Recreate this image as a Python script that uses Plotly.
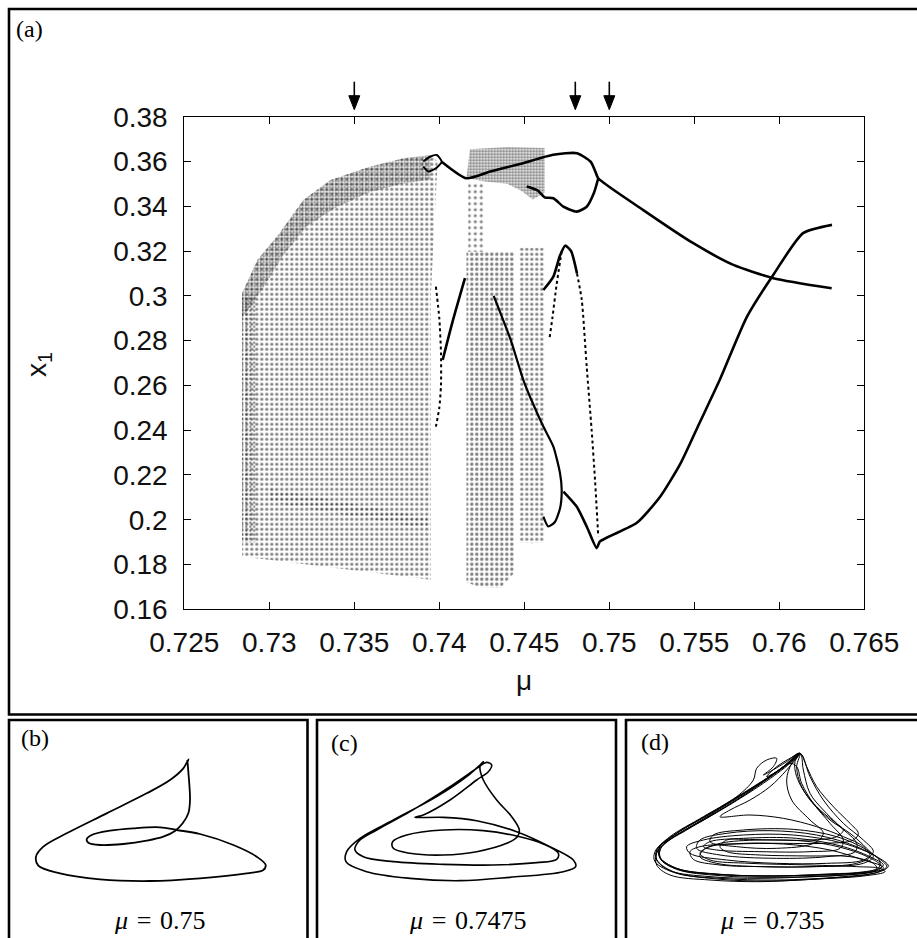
import plotly.graph_objects as go

W, H = 917, 938

def px(x):
    return x / W

def py(y):
    return 1 - y / H

# ---------------- (a) bifurcation diagram: maxima of x1 versus mu ----------------
mu_ticks = [0.725, 0.73, 0.735, 0.74, 0.745, 0.75, 0.755, 0.76, 0.765]
mu_tick_labels = ["0.725", "0.73", "0.735", "0.74", "0.745", "0.75", "0.755", "0.76", "0.765"]
x1_ticks = [0.16, 0.18, 0.2, 0.22, 0.24, 0.26, 0.28, 0.3, 0.32, 0.34, 0.36, 0.38]
x1_tick_labels = ["0.16", "0.18", "0.2", "0.22", "0.24", "0.26", "0.28", "0.3", "0.32", "0.34", "0.36", "0.38"]

arrow_mu = [0.735, 0.748, 0.75]

# outlines of the chaotic clouds of maxima
band_a_mu = [0.7284, 0.7284, 0.7293, 0.7306, 0.7320, 0.7336, 0.7359, 0.7379, 0.7395, 0.7399, 0.7397, 0.7395, 0.7395, 0.7284]
band_a_x1 = [0.1836, 0.3013, 0.3160, 0.3280, 0.3428, 0.3517, 0.3577, 0.3614, 0.3629, 0.3600, 0.3300, 0.3000, 0.1732, 0.1836]

dense_a_mu = [0.7284, 0.7293, 0.7306, 0.7320, 0.7336, 0.7359, 0.7379, 0.7395, 0.7395, 0.7378, 0.7358, 0.7338, 0.7322, 0.7308, 0.7296, 0.7284]
dense_a_x1 = [0.3013, 0.3160, 0.3280, 0.3428, 0.3517, 0.3577, 0.3614, 0.3629, 0.3520, 0.3500, 0.3460, 0.3390, 0.3310, 0.3180, 0.3030, 0.2900]

edge_a_mu = [0.7284, 0.7292, 0.7292, 0.7284]
edge_a_x1 = [0.1900, 0.1900, 0.3000, 0.3000]

streak_a_mu = [0.7300, 0.7393, 0.7393, 0.7300]
streak_a_x1 = [0.2140, 0.2010, 0.1960, 0.2080]

band_b_mu = [0.7416, 0.7416, 0.7444, 0.7444, 0.7436, 0.7424, 0.7416]
band_b_x1 = [0.1720, 0.3197, 0.3197, 0.1762, 0.1695, 0.1700, 0.1720]

stem_b_mu = [0.7417, 0.7417, 0.7426, 0.7426]
stem_b_x1 = [0.3197, 0.3510, 0.3510, 0.3197]

band_top_mu = [0.7416, 0.7418, 0.7440, 0.7462, 0.7462, 0.7455, 0.7448, 0.7440, 0.7428, 0.7416]
band_top_x1 = [0.3525, 0.3655, 0.3665, 0.3660, 0.3460, 0.3430, 0.3470, 0.3500, 0.3510, 0.3525]

band_c_mu = [0.7447, 0.7447, 0.7462, 0.7462, 0.7455, 0.7447]
band_c_x1 = [0.1900, 0.3215, 0.3215, 0.1900, 0.1895, 0.1900]

# periodic branches (bold) and steep transients (dotted)
loop_mu = [0.73906, 0.73945, 0.73985, 0.74014, 0.73980, 0.73935, 0.73906]
loop_x1 = [0.3600, 0.3621, 0.3629, 0.3599, 0.3570, 0.3555, 0.3577]

upper_mu = [0.74014, 0.7416, 0.7430, 0.7448, 0.7467, 0.7481, 0.7489, 0.74918, 0.74935, 0.7520, 0.75494, 0.7573, 0.75965, 0.76308]
upper_x1 = [0.3599, 0.3525, 0.3555, 0.3590, 0.3630, 0.3637, 0.3599, 0.3555, 0.3525, 0.3383, 0.3235, 0.3138, 0.3079, 0.3034]

bubble_mu = [0.74935, 0.7491, 0.74867, 0.74808, 0.7473, 0.74671, 0.7462, 0.7458, 0.74514]
bubble_x1 = [0.3525, 0.3460, 0.3398, 0.3376, 0.3398, 0.3436, 0.3440, 0.3470, 0.3488]

rise_mu = [0.7402, 0.7408, 0.74151]
rise_x1 = [0.2714, 0.2890, 0.3079]

dot0_mu = [0.7398, 0.7400, 0.7401, 0.7401, 0.7400, 0.7398]
dot0_x1 = [0.3041, 0.2900, 0.2744, 0.2600, 0.2500, 0.2416]

peak_mu = [0.74612, 0.74671, 0.7471, 0.7474, 0.74775, 0.7481]
peak_x1 = [0.3026, 0.3086, 0.3180, 0.3224, 0.3200, 0.3100]

dot1_mu = [0.7472, 0.7469, 0.74665, 0.74647]
dot1_x1 = [0.3200, 0.3050, 0.2900, 0.2803]

dot2_mu = [0.7481, 0.74838, 0.74867, 0.74896, 0.74916, 0.74935]
dot2_x1 = [0.3100, 0.2982, 0.2684, 0.2401, 0.2178, 0.1925]

mid_mu = [0.7432, 0.7442, 0.74494, 0.7455, 0.74612, 0.74671, 0.7471, 0.7472, 0.7471, 0.7468, 0.74641, 0.74612]
mid_x1 = [0.3000, 0.2803, 0.2625, 0.2520, 0.2416, 0.2327, 0.2208, 0.2133, 0.2050, 0.1990, 0.1970, 0.2014]

lower_mu = [0.7473, 0.74808, 0.74867, 0.74926, 0.74945, 0.7516, 0.7530, 0.7542, 0.7553, 0.7565, 0.7581, 0.7597, 0.7614, 0.7631]
lower_x1 = [0.2126, 0.2059, 0.1970, 0.1873, 0.1903, 0.1985, 0.2104, 0.2253, 0.2431, 0.2625, 0.2907, 0.3100, 0.3280, 0.3317]

# ---------------- (b)-(d) phase portraits (traced shapes, image units) ----------------
b_u = [562, 565, 570, 565, 548, 525, 490, 440, 370, 300, 265, 260, 275, 330, 400, 480, 530, 600, 700, 770, 797, 790, 740, 600, 450, 300, 180, 115, 108, 130, 200, 320, 440, 510, 550, 560, 566, 560]
b_v = [180, 215, 300, 340, 370, 393, 410, 422, 432, 435, 428, 418, 405, 392, 385, 382, 390, 402, 435, 470, 495, 510, 520, 535, 543, 538, 520, 497, 470, 440, 400, 340, 280, 240, 205, 188, 178, 192]

c_u = [520, 510, 520, 560, 605, 628, 622, 590, 500, 400, 300, 250, 248, 290, 400, 520, 620, 700, 745, 740, 680, 550, 400, 250, 160, 135, 145, 200, 300, 420, 500, 530, 545, 535, 500, 420, 340, 315, 400, 500, 620, 720, 790, 797, 760, 600, 450, 300, 170, 108, 110, 150, 250, 380, 470, 510, 520]
c_v = [185, 200, 240, 300, 350, 390, 410, 430, 455, 465, 460, 445, 425, 405, 390, 392, 408, 432, 460, 478, 488, 495, 493, 485, 470, 450, 425, 390, 335, 260, 205, 187, 195, 215, 240, 300, 345, 352, 352, 362, 395, 440, 480, 500, 515, 532, 542, 535, 515, 485, 455, 415, 360, 290, 230, 195, 185]

d1_u = [570, 560, 575, 620, 690, 740, 735, 650, 500, 330, 260, 270, 350, 480, 620, 740, 810, 830, 790, 650, 480, 320, 190, 140, 145, 200, 300, 420, 520, 570]
d1_v = [160, 200, 260, 320, 380, 430, 455, 470, 475, 465, 445, 420, 400, 392, 405, 440, 478, 500, 520, 535, 543, 537, 515, 478, 445, 405, 345, 270, 200, 160]

d2_u = [570, 545, 530, 545, 600, 640, 610, 500, 380, 300, 310, 400, 550, 680, 770, 810, 800, 700, 500, 330, 200, 150, 155, 230, 350, 460, 540, 570]
d2_v = [160, 190, 240, 300, 360, 400, 430, 445, 440, 425, 405, 390, 388, 410, 450, 485, 510, 525, 532, 527, 508, 475, 440, 390, 320, 250, 190, 160]

d3_u = [570, 600, 640, 700, 760, 790, 760, 650, 500, 350, 240, 230, 280, 400, 550, 700, 800, 835, 810, 700, 500, 330, 200, 135, 135, 180, 280, 380, 430, 440, 470, 500, 490, 460, 480, 530, 570]
d3_v = [160, 230, 300, 370, 420, 455, 480, 490, 490, 480, 460, 440, 420, 405, 405, 430, 470, 498, 515, 530, 540, 535, 520, 485, 455, 410, 350, 290, 240, 205, 180, 175, 200, 225, 215, 185, 160]

d4_u = [570, 530, 480, 420, 360, 330, 420, 520, 620, 700, 760, 780, 740, 600, 450, 320, 270, 280, 330, 450, 600, 720, 800, 820, 760, 600, 450, 300, 180, 140, 140, 185, 300, 430, 530, 570]
d4_v = [160, 210, 260, 300, 330, 350, 345, 355, 380, 410, 440, 470, 490, 500, 500, 490, 470, 450, 430, 420, 425, 450, 485, 505, 520, 530, 535, 530, 512, 480, 450, 410, 340, 260, 195, 160]

d5_u = [570, 580, 600, 640, 680, 700, 680, 600, 480, 400, 350, 330, 350, 450, 600, 720, 790, 800, 740, 600, 450, 310, 200, 150, 150, 200, 320, 440, 520, 570]
d5_v = [160, 210, 280, 330, 370, 390, 410, 420, 420, 418, 420, 440, 455, 465, 468, 470, 490, 505, 518, 525, 528, 522, 505, 472, 440, 400, 330, 255, 200, 160]

d6_u = [570, 555, 560, 600, 660, 720, 770, 790, 760, 620, 470, 330, 250, 240, 270, 380, 520, 660, 760, 815, 800, 700, 520, 340, 210, 155, 150, 190, 290, 410, 510, 570]
d6_v = [160, 185, 230, 300, 360, 400, 445, 470, 490, 500, 500, 495, 478, 455, 440, 432, 432, 450, 480, 500, 512, 522, 528, 524, 510, 480, 450, 412, 355, 280, 210, 160]

d7_u = [570, 590, 620, 670, 720, 745, 730, 640, 520, 400, 300, 270, 300, 420, 600, 740, 810, 825, 760, 600, 450, 300, 180, 140, 140, 170, 260, 380, 480, 545, 570]
d7_v = [160, 200, 260, 320, 370, 400, 420, 430, 430, 430, 440, 460, 480, 490, 495, 500, 505, 515, 528, 538, 545, 540, 525, 495, 460, 425, 370, 300, 230, 180, 160]

d8_u = [570, 540, 500, 470, 500, 540, 560, 575, 610, 660, 700, 690, 600, 450, 320, 280, 300, 400, 560, 700, 790, 820, 790, 650, 480, 320, 200, 148, 150, 200, 320, 450, 530, 570]
d8_v = [160, 175, 200, 230, 215, 190, 200, 250, 310, 370, 420, 445, 455, 455, 450, 440, 425, 415, 415, 440, 475, 495, 512, 522, 528, 522, 505, 470, 440, 400, 330, 250, 195, 160]

# ---------------- figure ----------------
fig = go.Figure()

def cloud(mu, x1, size, solidity):
    fig.add_trace(go.Scatter(
        x=mu, y=x1, mode="lines", fill="toself",
        line=dict(width=0, color="rgba(0,0,0,0)"),
        fillcolor="rgba(255,255,255,0)",
        fillpattern=dict(shape=".", fgcolor="black", bgcolor="rgba(255,255,255,0)",
                         size=size, solidity=solidity, fillmode="overlay"),
        hoverinfo="skip", showlegend=False))

cloud(band_a_mu, band_a_x1, 5, 0.32)
cloud(dense_a_mu, dense_a_x1, 3, 0.45)
cloud(edge_a_mu, edge_a_x1, 4, 0.25)
cloud(streak_a_mu, streak_a_x1, 5, 0.15)
cloud(band_b_mu, band_b_x1, 5, 0.34)
cloud(stem_b_mu, stem_b_x1, 6, 0.22)
cloud(band_top_mu, band_top_x1, 3, 0.55)
cloud(band_c_mu, band_c_x1, 5, 0.32)

def branch(mu, x1, width=2.6, dash="solid"):
    fig.add_trace(go.Scatter(
        x=mu, y=x1, mode="lines",
        line=dict(color="black", width=width, dash=dash, shape="spline", smoothing=0.6),
        hoverinfo="skip", showlegend=False))

branch(loop_mu, loop_x1, 2.0)
branch(upper_mu, upper_x1)
branch(bubble_mu, bubble_x1)
branch(rise_mu, rise_x1)
branch(dot0_mu, dot0_x1, 2.0, "dot")
branch(peak_mu, peak_x1)
branch(dot1_mu, dot1_x1, 2.0, "dot")
branch(dot2_mu, dot2_x1, 2.0, "dot")
branch(mid_mu, mid_x1, 2.2)
branch(lower_mu, lower_x1)

# phase portraits
def portrait(u, v, axis_id, width=1.6):
    fig.add_trace(go.Scatter(
        x=u, y=v, mode="lines", xaxis="x" + axis_id, yaxis="y" + axis_id,
        line=dict(color="black", width=width, shape="spline", smoothing=1.0),
        hoverinfo="skip", showlegend=False))

portrait(b_u, b_v, "2", 1.8)
portrait(c_u, c_v, "3", 1.6)
for du, dv in [(d1_u, d1_v), (d2_u, d2_v), (d3_u, d3_v), (d4_u, d4_v),
               (d5_u, d5_v), (d6_u, d6_v), (d7_u, d7_v), (d8_u, d8_v)]:
    portrait(du, dv, "4", 1.0)

tick_font = dict(family="Liberation Sans", size=28, color="#111")
axis_common = dict(showline=True, linecolor="black", linewidth=1, mirror="ticks",
                   ticks="inside", ticklen=7, tickwidth=1, tickcolor="black",
                   showgrid=False, zeroline=False, tickfont=tick_font, automargin=False)

hidden = dict(visible=False, showgrid=False, zeroline=False, fixedrange=True, automargin=False)

fig.update_layout(
    template="none",
    width=W, height=H, autosize=False,
    margin=dict(l=0, r=0, t=0, b=0, pad=0, autoexpand=False),
    paper_bgcolor="white", plot_bgcolor="white",
    showlegend=False,
    xaxis=dict(domain=[px(184.3), px(864.3)], range=[0.725, 0.765],
               tickvals=mu_ticks, ticktext=mu_tick_labels, ticklabelstandoff=8, **axis_common),
    yaxis=dict(domain=[py(609.3), py(116.7)], range=[0.16, 0.38],
               tickvals=x1_ticks, ticktext=x1_tick_labels, ticklabelstandoff=10, **axis_common),
    xaxis2=dict(domain=[px(0), px(320)], range=[0, 960], anchor="y2", **hidden),
    yaxis2=dict(domain=[0, py(700)], range=[714, 0], anchor="x2", **hidden),
    xaxis3=dict(domain=[px(310), px(630)], range=[0, 960], anchor="y3", **hidden),
    yaxis3=dict(domain=[0, py(700)], range=[714, 0], anchor="x3", **hidden),
    xaxis4=dict(domain=[px(610), 1.0], range=[0, 921], anchor="y4", **hidden),
    yaxis4=dict(domain=[0, py(700)], range=[714, 0], anchor="x4", **hidden),
)

# panel frames
frame = dict(color="black", width=2.6)
fig.add_shape(type="rect", xref="paper", yref="paper", x0=px(9), x1=px(930), y0=py(714.5), y1=py(9), line=frame)
fig.add_shape(type="rect", xref="paper", yref="paper", x0=px(9), x1=px(307.5), y0=py(950), y1=py(720), line=frame)
fig.add_shape(type="rect", xref="paper", yref="paper", x0=px(317), x1=px(616), y0=py(950), y1=py(720), line=frame)
fig.add_shape(type="rect", xref="paper", yref="paper", x0=px(626), x1=px(930), y0=py(950), y1=py(720), line=frame)

# arrows marking the portrait parameters (pixel-sized, anchored at mu just above the top axis)
top_axis = py(116.7)
for m in arrow_mu:
    fig.add_shape(type="line", xref="x", yref="paper", xsizemode="pixel", ysizemode="pixel",
                  xanchor=m, yanchor=top_axis, x0=0, x1=0, y0=20, y1=35,
                  line=dict(color="black", width=1.6))
    fig.add_shape(type="path", xref="x", yref="paper", xsizemode="pixel", ysizemode="pixel",
                  xanchor=m, yanchor=top_axis, path="M -5.5,21 L 5.5,21 L 0,7 Z",
                  fillcolor="black", line=dict(color="black", width=1))

serif = "Liberation Serif"
labels = [("(a)", 29, 29), ("(b)", 35, 738), ("(c)", 344, 743), ("(d)", 655, 742)]
for t, xx, yy in labels:
    fig.add_annotation(x=px(xx), y=py(yy), xref="paper", yref="paper", text=t, showarrow=False,
                       font=dict(family=serif, size=24, color="black"), xanchor="center", yanchor="middle")

sp = "\u2004"
captions = [("<i>μ</i>" + sp + "=" + sp + "0.75", 160, 920),
            ("<i>μ</i>" + sp + "=" + sp + "0.7475", 468, 920),
            ("<i>μ</i>" + sp + "=" + sp + "0.735", 772, 920)]
for t, xx, yy in captions:
    fig.add_annotation(x=px(xx), y=py(yy), xref="paper", yref="paper", text=t, showarrow=False,
                       font=dict(family=serif, size=26, color="black"), xanchor="center", yanchor="middle")

# axis titles
fig.add_annotation(x=px(524), y=py(680), xref="paper", yref="paper", text="μ", showarrow=False,
                   font=dict(family="Liberation Sans", size=28, color="#111"), xanchor="center", yanchor="middle")
fig.add_annotation(x=px(38), y=py(365), xref="paper", yref="paper", text="x<sub>1</sub>", showarrow=False,
                   textangle=-90, font=dict(family="Liberation Sans", size=28, color="#111"),
                   xanchor="center", yanchor="middle")

fig.write_html("out.html",
               config={"displayModeBar": False, "staticPlot": True},
               post_script="document.body.style.margin='0px';document.body.style.overflow='hidden';")
